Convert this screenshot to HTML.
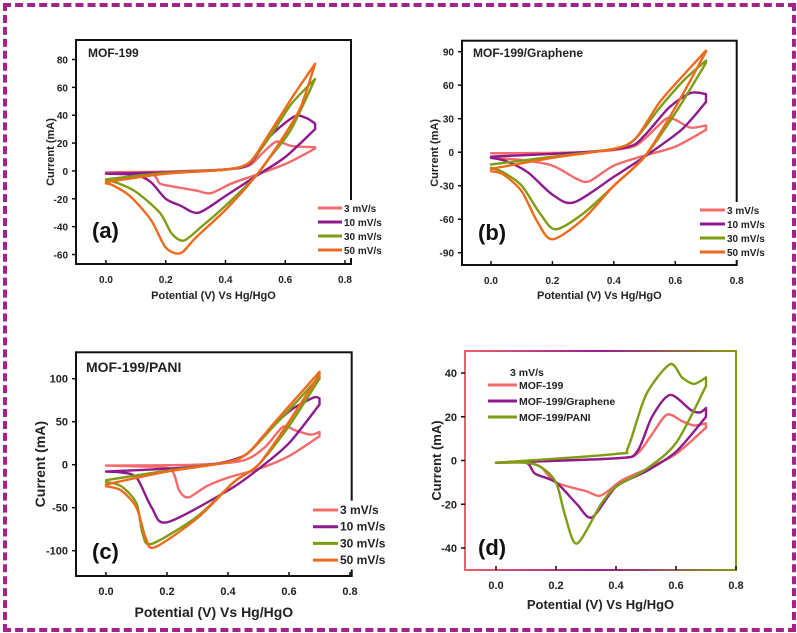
<!DOCTYPE html>
<html><head><meta charset="utf-8">
<style>
html,body{margin:0;padding:0;background:#fff;}
body{width:797px;height:633px;overflow:hidden;position:relative;font-family:"Liberation Sans",sans-serif;}
#frame{position:absolute;left:3px;top:3px;width:785px;height:621px;border:4px dashed #a3238a;}
svg{position:absolute;left:0;top:0;}
text{font-family:"Liberation Sans",sans-serif;font-weight:bold;fill:#222;}
</style></head>
<body>
<div id="frame"></div>
<svg id="fig" width="797" height="633">
<defs>
<linearGradient id="dgrad" x1="0" y1="0" x2="1" y2="0">
<stop offset="0" stop-color="#f0606a"/><stop offset="0.5" stop-color="#a01a90"/><stop offset="1" stop-color="#8a9a10"/>
</linearGradient>
</defs>
</svg>
<script>
// ---- data (potential V, current mA) ----
const xTicks = [0.0, 0.2, 0.4, 0.6, 0.8];
const xTickLabels = ["0.0","0.2","0.4","0.6","0.8"];
const yTicksA = [-60,-40,-20,0,20,40,60,80];
const yTicksB = [-90,-60,-30,0,30,60,90];
const yTicksC = [-100,-50,0,50,100];
const yTicksD = [-40,-20,0,20,40];
const rateLabels = ["3 mV/s","10 mV/s","30 mV/s","50 mV/s"];
const materialLabels = ["MOF-199","MOF-199/Graphene","MOF-199/PANI"];

const a3V = [0,0.2,0.4,0.48,0.52,0.57,0.62,0.7,0.7,0.6,0.5,0.42,0.35,0.3,0.22,0.18,0.16,0.1,0];
const a3I = [-1,-0.5,1,4,12,21,18,17,16,5,-3,-9,-16,-14,-11,-9,-3,-2,-1];
const a10V = [0,0.2,0.4,0.48,0.55,0.63,0.67,0.7,0.7,0.6,0.5,0.4,0.31,0.25,0.2,0.15,0.1,0];
const a10I = [-2,-1,1,5,25,39,38,34,30,10,-4,-18,-30,-25,-20,-8,-3,-2];
const a30V = [0,0.2,0.4,0.48,0.55,0.62,0.7,0.7,0.62,0.55,0.5,0.4,0.32,0.26,0.22,0.18,0.1,0.03,0];
const a30I = [-6,-1.5,1,6,25,48,66,66,30,10,-4,-25,-40,-50,-45,-30,-15,-8,-7];
const a50V = [0,0.2,0.4,0.48,0.55,0.63,0.7,0.7,0.65,0.58,0.5,0.4,0.3,0.25,0.2,0.15,0.08,0.02,0];
const a50I = [-8,-2,1,6,28,55,77,77,45,20,-4,-28,-48,-59,-55,-35,-18,-10,-9];

const b3V = [0,0.3,0.45,0.5,0.57,0.6,0.65,0.7,0.7,0.6,0.5,0.4,0.32,0.28,0.2,0.1,0];
const b3I = [-1,0,4,12,30,29,22,24,20,5,-3,-12,-26,-24,-12,-7,-5];
const b10V = [0,0.3,0.45,0.5,0.58,0.65,0.7,0.7,0.62,0.5,0.4,0.27,0.2,0.12,0.05,0];
const b10I = [-4,0,5,15,40,53,52,45,20,-4,-22,-45,-38,-18,-8,-5];
const b30V = [0,0.2,0.4,0.47,0.55,0.63,0.7,0.7,0.6,0.5,0.4,0.3,0.21,0.16,0.1,0.04,0];
const b30I = [-11,-4,3,12,40,65,82,80,35,-4,-30,-55,-69,-55,-30,-18,-14];
const b50V = [0,0.2,0.4,0.47,0.55,0.63,0.7,0.7,0.6,0.5,0.4,0.3,0.2,0.15,0.1,0.04,0];
const b50I = [-15,-5,3,12,45,70,91,90,40,-4,-30,-60,-78,-62,-35,-20,-17];

const c3V = [0,0.3,0.45,0.52,0.58,0.62,0.67,0.7,0.7,0.6,0.5,0.4,0.33,0.27,0.24,0.21,0.1,0];
const c3I = [-1,0,5,20,44,40,35,38,33,10,-5,-15,-25,-38,-30,-5,-2,-1];
const c10V = [0,0.3,0.45,0.52,0.6,0.68,0.7,0.7,0.6,0.5,0.4,0.2,0.15,0.1,0.05,0];
const c10I = [-8,-2,10,35,62,78,77,70,25,-5,-30,-67,-50,-15,-9,-8];
const c30V = [0,0.2,0.4,0.47,0.55,0.63,0.7,0.7,0.6,0.5,0.42,0.3,0.15,0.12,0.1,0.05,0];
const c30I = [-18,-7,3,15,45,75,103,100,45,0,-20,-60,-92,-80,-45,-25,-20];
const c50V = [0,0.2,0.4,0.47,0.55,0.63,0.7,0.7,0.6,0.5,0.42,0.3,0.16,0.13,0.1,0.05,0];
const c50I = [-23,-8,3,15,48,80,108,105,50,0,-20,-62,-96,-85,-50,-30,-25];

const d1V = [0,0.4,0.47,0.52,0.57,0.62,0.66,0.7,0.7,0.6,0.5,0.42,0.35,0.3,0.2,0.15,0.1,0];
const d1I = [-1,1,3,12,21,18,16,17,15,3,-4,-9,-16,-14,-10,-3,-1,-1];
const d2V = [0,0.4,0.47,0.52,0.58,0.65,0.68,0.7,0.7,0.6,0.5,0.4,0.32,0.27,0.2,0.13,0.1,0];
const d2I = [-1,1,4,20,30,23,22,24,20,4,-5,-12,-26,-20,-10,-6,-1,-1];
const d3V = [0,0.4,0.44,0.5,0.58,0.62,0.66,0.7,0.7,0.6,0.5,0.4,0.35,0.27,0.23,0.2,0.15,0.1,0];
const d3I = [-1,3,6,30,44,38,35,38,34,8,-4,-12,-20,-38,-25,-10,-3,-1,-1];

const colors = ["#f26a6c","#8e1a8c","#7f9d12","#ef6a1c"];
// ---- drawing ----
const svg = document.getElementById('fig');
const NS = 'http://www.w3.org/2000/svg';
function mk(tag, attrs, parent){
  const e = document.createElementNS(NS, tag);
  for (const k in attrs) e.setAttribute(k, attrs[k]);
  (parent||svg).appendChild(e);
  return e;
}
function smoothPath(P){
  let d = 'M' + P[0][0].toFixed(1) + ',' + P[0][1].toFixed(1);
  const n = P.length;
  for (let i = 0; i < n - 1; i++){
    const p1 = P[i], p2 = P[i + 1];
    if (Math.abs(p2[0] - p1[0]) < 0.5) { d += ' L' + p2[0].toFixed(1) + ',' + p2[1].toFixed(1); continue; }
    let p0 = P[Math.max(0, i - 1)], p3 = P[Math.min(n - 1, i + 2)];
    if (i > 0 && Math.abs(p1[0] - p0[0]) < 0.5) p0 = p1;
    if (i + 2 < n && Math.abs(p3[0] - p2[0]) < 0.5) p3 = p2;
    const t = 0.14;
    const c1 = [p1[0] + (p2[0] - p0[0]) * t, p1[1] + (p2[1] - p0[1]) * t];
    const c2 = [p2[0] - (p3[0] - p1[0]) * t, p2[1] - (p3[1] - p1[1]) * t];
    d += ' C' + c1[0].toFixed(1) + ',' + c1[1].toFixed(1) + ' ' + c2[0].toFixed(1) + ',' + c2[1].toFixed(1) + ' ' + p2[0].toFixed(1) + ',' + p2[1].toFixed(1);
  }
  return d;
}
function panel(p){
  const g = mk('g',{});
  
  
  const sx = v => p.px0 + (v - 0) * (p.px8 - p.px0) / 0.8;
  const sy = i => p.py0 + (i - p.ya) * (p.py1 - p.py0) / (p.yb - p.ya);
  const box = mk('rect', {x: p.bx0, y: p.by0, width: p.bx1 - p.bx0, height: p.by1 - p.by0, fill: 'none', stroke: p.boxStroke || '#111', 'stroke-width': 2}, g);
  
  
  p.series.forEach((s, k) => {
    const P = s.V.map((v, j) => [sx(v), sy(s.I[j])]);
    const pl = mk('path', {d: smoothPath(P), fill: 'none', stroke: s.color, 'stroke-width': 2.4, 'stroke-linejoin': 'round', 'stroke-linecap': 'round'}, g);
    
    
  });
  xTicks.forEach((v, j) => {
    const x = sx(v);
    mk('line', {x1: x, x2: x, y1: p.by1, y2: p.by1 - 4, stroke: '#111', 'stroke-width': 1.5}, g);
    const t = mk('text', {x: x, y: p.by1 + 19, 'font-size': p.tf, 'text-anchor': 'middle'}, g);
    t.textContent = xTickLabels[j];
    
    
  });
  p.yTicks.forEach(v => {
    const y = sy(v);
    mk('line', {x1: p.bx0, x2: p.bx0 - 4, y1: y, y2: y, stroke: '#111', 'stroke-width': 1.5}, g);
    const t = mk('text', {x: p.bx0 - 8, y: y + 4, 'font-size': p.tf, 'text-anchor': 'end'}, g);
    t.textContent = v;
    
    
  });
  const xt = mk('text', {x: (p.bx0 + p.bx1) / 2, y: p.xtY, 'font-size': p.af, 'text-anchor': 'middle'}, g);
  xt.textContent = 'Potential (V) Vs Hg/HgO';
  
  
  const yc = (p.by0 + p.by1) / 2;
  const yt = mk('text', {x: p.ytX, y: yc, 'font-size': p.af, 'text-anchor': 'middle', transform: 'rotate(-90 ' + p.ytX + ' ' + yc + ')'}, g);
  yt.textContent = 'Current (mA)';
  
  
  if (p.title) {
    const tt = mk('text', {x: p.title[1], y: p.title[2], 'font-size': p.title[3]}, g);
    tt.textContent = p.title[0];
    
    
  }
  const lab = mk('text', {x: p.lab[1], y: p.lab[2], 'font-size': 22, style: 'fill:#111'}, g);
  lab.textContent = p.lab[0];
  
  
  if (p.legBg) {
    const bg = mk('rect', {x: p.legX0 - 3, y: p.legY0 - p.legDy / 2 - 1, width: p.legBg, height: p.legDy * p.legLabels.length + 2, fill: '#fff'}, g);
    
    
  }
  if (p.legHead) {
    const h = mk('text', {x: p.legHead[0], y: p.legHead[1], 'font-size': p.lf}, g);
    h.textContent = '3 mV/s';
    
    
  }
  p.legLabels.forEach((lbl, k) => {
    const y = p.legY0 + k * p.legDy;
    const ln = mk('line', {x1: p.legX0, x2: p.legX1, y1: y, y2: y, stroke: p.series[k].color, 'stroke-width': 3}, g);
    
    
    const t = mk('text', {x: p.legX1 + 2, y: y + 4, 'font-size': p.lf}, g);
    t.textContent = lbl;
    
    
  });
}
panel({name:'panel-a', px0:106, px8:345, py0:254.5, py1:59.5, ya:-60, yb:80, bx0:76, bx1:351, by0:40, by1:264,
  yTicks:yTicksA, tf:10, af:11, xtY:299, ytX:54, title:['MOF-199',88,57,12], lab:['(a)',92,238],
  legLabels:rateLabels, legX0:318, legX1:342, legY0:208, legDy:14, lf:10, legBg:70,
  series:[{V:a3V,I:a3I,color:colors[0]},{V:a10V,I:a10I,color:colors[1]},{V:a30V,I:a30I,color:colors[2]},{V:a50V,I:a50I,color:colors[3]}]});
panel({name:'panel-b', px0:491, px8:736.7, py0:252.7, py1:51.7, ya:-90, yb:90, bx0:462, bx1:736.7, by0:40.7, by1:265,
  yTicks:yTicksB, tf:10, af:11, xtY:299, ytX:438, title:['MOF-199/Graphene',473,57,12], lab:['(b)',478,240],
  legLabels:rateLabels, legX0:700, legX1:725, legY0:210, legDy:14, lf:10, legBg:70,
  series:[{V:b3V,I:b3I,color:colors[0]},{V:b10V,I:b10I,color:colors[1]},{V:b30V,I:b30I,color:colors[2]},{V:b50V,I:b50I,color:colors[3]}]});
panel({name:'panel-c', px0:106, px8:350, py0:550.7, py1:378.7, ya:-100, yb:100, bx0:76, bx1:351.7, by0:352.3, by1:576,
  yTicks:yTicksC, tf:11, af:14, xtY:617, ytX:45, title:['MOF-199/PANI',86,372,14], lab:['(c)',92,559],
  legLabels:rateLabels, legX0:313, legX1:338, legY0:510, legDy:16.7, lf:12, legBg:80,
  series:[{V:c3V,I:c3I,color:colors[0]},{V:c10V,I:c10I,color:colors[1]},{V:c30V,I:c30I,color:colors[2]},{V:c50V,I:c50I,color:colors[3]}]});
panel({name:'panel-d', px0:496, px8:736, py0:548, py1:373, ya:-40, yb:40, bx0:465, bx1:736, by0:351, by1:570, boxStroke:'url(#dgrad)',
  yTicks:yTicksD, tf:11, af:13, xtY:609, ytX:441, title:null, lab:['(d)',478,555],
  legHead:[510,376], legLabels:materialLabels, legX0:488, legX1:517, legY0:385, legDy:16, lf:10.5,
  series:[{V:d1V,I:d1I,color:colors[0]},{V:d2V,I:d2I,color:colors[1]},{V:d3V,I:d3I,color:colors[2]}]});
</script>
</body></html>
